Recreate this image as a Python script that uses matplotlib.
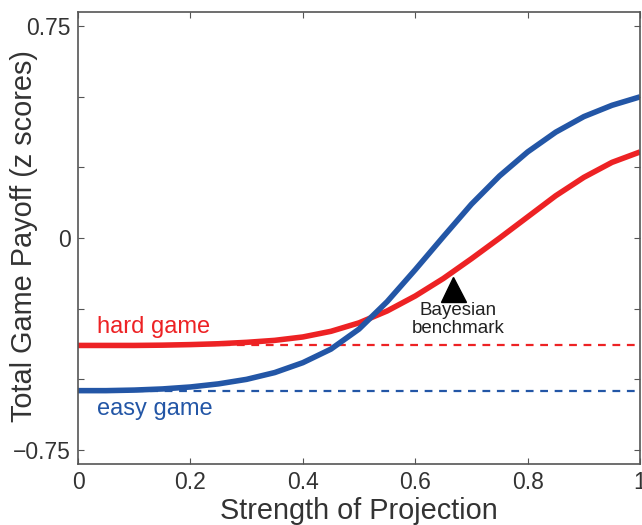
import matplotlib
matplotlib.use("Agg")
import matplotlib.pyplot as plt

plt.rcParams['font.family'] = ['Liberation Sans', 'DejaVu Sans']

x = [0.0, 0.05, 0.1, 0.15, 0.2, 0.25, 0.3, 0.35, 0.4, 0.45, 0.5,
     0.55, 0.6, 0.65, 0.7, 0.75, 0.8, 0.85, 0.9, 0.95, 1.0]
easy = [-0.540, -0.540, -0.538, -0.534, -0.527, -0.516, -0.500, -0.476, -0.441, -0.393, -0.322,
        -0.225, -0.112, 0.005, 0.120, 0.220, 0.305, 0.375, 0.430, 0.470, 0.500]
hard = [-0.380, -0.380, -0.380, -0.379, -0.377, -0.374, -0.369, -0.362, -0.350, -0.330, -0.300,
        -0.258, -0.205, -0.143, -0.073, 0.000, 0.075, 0.150, 0.215, 0.268, 0.305]
easy_base = -0.540
hard_base = -0.380
bench_x, bench_y = 0.667, -0.18

RED = '#ED2224'
BLUE = '#2356A6'

fig = plt.figure(figsize=(6.42, 5.25), dpi=100)
ax = fig.add_axes([0.1215, 0.116, 0.8755, 0.861])

ax.plot([0, 1], [hard_base, hard_base], color=RED, lw=1.6, ls=(0, (3.5, 3)))
ax.plot([0, 1], [easy_base, easy_base], color=BLUE, lw=1.6, ls=(0, (3.5, 3)))
ax.plot(x, hard, color=RED, lw=4, solid_capstyle='butt', solid_joinstyle='round')
ax.plot(x, easy, color=BLUE, lw=4, solid_capstyle='butt', solid_joinstyle='round')

ax.plot([bench_x], [bench_y], marker='^', color='black', markersize=18, ls='none')
ax.text(bench_x + 0.01, -0.289, 'Bayesian\nbenchmark', ha='center', va='center',
        fontsize=13.5, color='#222222', linespacing=1.1)

ax.text(0.034, -0.313, 'hard game', color=RED, fontsize=17, ha='left', va='center')
ax.text(0.034, -0.606, 'easy game', color=BLUE, fontsize=17, ha='left', va='center')

ax.set_xlim(0, 1)
ax.set_ylim(-0.8, 0.8)
ax.set_xticks([0, 0.2, 0.4, 0.6, 0.8, 1.0])
ax.set_xticklabels(['0', '0.2', '0.4', '0.6', '0.8', '1'])
ax.set_yticks([-0.75, -0.5, -0.25, 0, 0.25, 0.5, 0.75])
ax.set_yticklabels(['\u22120.75', '', '', '0', '', '', '0.75'])
ax.tick_params(direction='in', top=True, right=True, length=4, width=0.8,
               color='#555555', labelsize=16.5, labelcolor='#333333', pad=5)
for s in ax.spines.values():
    s.set_color('#555555')
    s.set_linewidth(1.2)

ax.set_xlabel('Strength of Projection', fontsize=20.8, color='#333333', labelpad=2)
ax.set_ylabel('Total Game Payoff (z scores)', fontsize=20.8, color='#333333')
ax.yaxis.set_label_coords(-0.072, 0.505)

fig.savefig('out.png', dpi=100)
